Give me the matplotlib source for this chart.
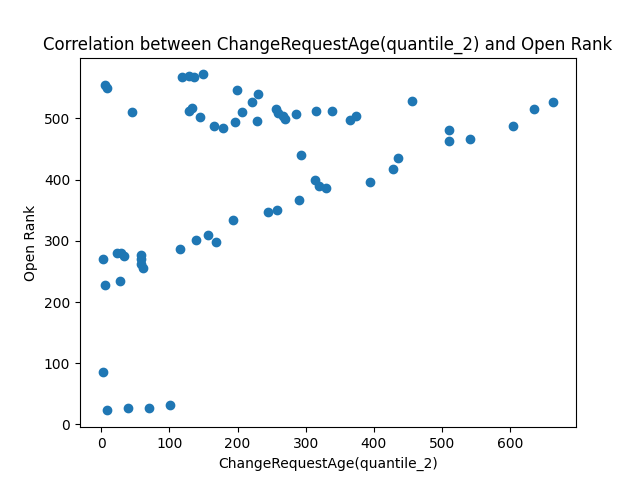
import numpy as np
import matplotlib
matplotlib.use('Agg')
import matplotlib.pyplot as plt

# values
change_request_age = [
    4.9, 8.2, 45.0, 118.5, 128.8, 136.2, 149.4, 199.4, 230.3, 221.5,
    128.8, 133.8, 145.0, 165.1, 178.8, 196.5, 206.8, 228.8, 256.3, 259.7,
    267.1, 270.0, 286.2, 315.6, 339.1, 365.1, 374.4, 456.8, 510.7, 510.7,
    541.6, 603.8, 635.7, 663.7,
    293.1, 314.1, 320.3, 330.3, 395.0, 428.8, 436.2, 290.6, 244.6, 258.2,
    193.1, 138.7, 156.3, 169.1, 115.1, 1.9, 23.5, 29.4, 33.2, 57.8,
    57.8, 58.8, 61.8, 5.3, 27.4, 1.9, 8.8, 39.1, 69.6, 100.9,
]
open_rank = [
    554, 549, 510, 567, 569, 567, 572, 547, 540, 527,
    513, 517, 502, 487, 484, 494, 510, 496, 515, 509,
    504, 499, 508, 512, 513, 498, 504, 528, 481, 463,
    466, 487, 515, 527,
    441, 399, 389, 386, 396, 417, 435, 366, 347, 350,
    334, 301, 309, 298, 286, 270, 280, 280, 276, 277,
    270, 263, 255, 228, 234, 85, 23, 27, 27, 32,
]

fig, ax = plt.subplots(figsize=(6.4, 4.8), dpi=100)
ax.scatter(change_request_age, open_rank)
ax.set_title('Correlation between ChangeRequestAge(quantile_2) and Open Rank')
ax.set_xlabel('ChangeRequestAge(quantile_2)')
ax.set_ylabel('Open Rank')
fig.savefig('out.png')
